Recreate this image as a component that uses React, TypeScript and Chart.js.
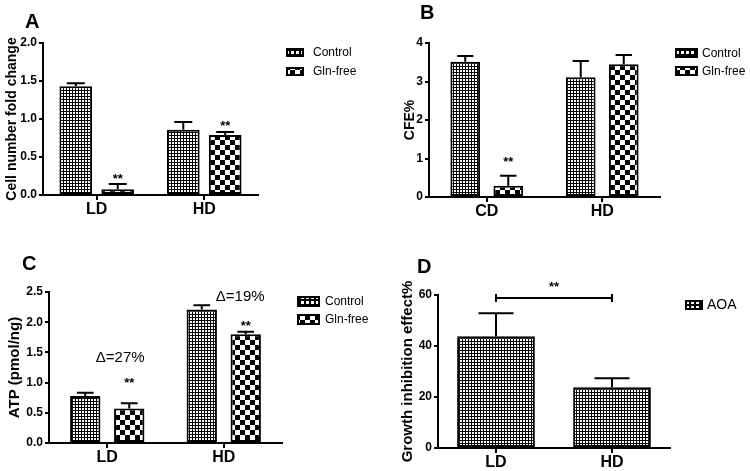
import React, { useEffect, useRef } from 'react';
import { Chart, registerables } from 'chart.js';
Chart.register(...registerables);

const FONT = "'Liberation Sans', Arial, Helvetica, sans-serif";

// ---------- Panel A ----------
const catsA = ['LD', 'HD'];
const controlA = [1.43, 0.86];
const controlErrA = [0.04, 0.1];
const glnA = [0.075, 0.79];
const glnErrA = [0.07, 0.04];
const starsA = [
  { ds: 1, i: 0, y: 0.25 },
  { ds: 1, i: 1, y: 0.95 },
];

// ---------- Panel B ----------
const catsB = ['CD', 'HD'];
const controlB = [3.51, 3.11];
const controlErrB = [0.15, 0.42];
const glnB = [0.29, 3.45];
const glnErrB = [0.26, 0.24];
const starsB = [{ ds: 1, i: 0, y: 0.99 }];

// ---------- Panel C ----------
const catsC = ['LD', 'HD'];
const controlC = [0.78, 2.21];
const controlErrC = [0.05, 0.07];
const glnC = [0.57, 1.8];
const glnErrC = [0.09, 0.04];
const starsC = [
  { ds: 1, i: 0, y: 1.04 },
  { ds: 1, i: 1, y: 1.99 },
];
const deltaC = [
  { ds: 1, i: 0, y: 1.41, text: 'Δ=27%' },
  { ds: 1, i: 1, y: 2.42, text: 'Δ=19%' },
];

// ---------- Panel D ----------
const catsD = ['LD', 'HD'];
const aoaD = [43.8, 23.8];
const aoaErrD = [9.0, 3.6];
const bracketD = { y: 58.8, starY: 64.5, text: '**' };

// fine pattern: black grid with white dots; coarse pattern: checkerboard
function makePattern(kind: 'fine' | 'coarse' | 'legendFine'): CanvasPattern {
  const c = document.createElement('canvas');
  const g = c.getContext('2d')!;
  if (kind === 'coarse') {
    const cell = 5;
    c.width = c.height = cell * 2;
    g.fillStyle = '#fff';
    g.fillRect(0, 0, cell * 2, cell * 2);
    g.fillStyle = '#000';
    g.fillRect(0, 0, cell, cell);
    g.fillRect(cell, cell, cell, cell);
  } else if (kind === 'fine') {
    c.width = c.height = 3;
    g.fillStyle = '#000';
    g.fillRect(0, 0, 3, 3);
    g.fillStyle = '#fff';
    g.fillRect(1, 1, 2, 2);
  } else {
    c.width = c.height = 5;
    g.fillStyle = '#000';
    g.fillRect(0, 0, 5, 5);
    g.fillStyle = '#fff';
    g.fillRect(1, 1, 3, 3);
  }
  return g.createPattern(c, 'repeat')!;
}

type Series = { label: string; data: number[]; err: number[]; kind: 'fine' | 'coarse' };
type Spec = {
  left: number; top: number; w: number; h: number;
  cats: string[]; series: Series[];
  yMax: number; yStep: number; decimals: number;
  yTitle: string; yTitleSize: number; yTitlePad: number;
  axisW: number; padRight: number; padTop: number; xH: number;
  barPct: number; catPct: number; capFrac: number;
  letter: string; letterX: number; letterY: number;
  legDx: number; legDy: number; boxW: number; boxH: number; legGap: number; legTextGap: number; legFont: number;
  stars?: { ds: number; i: number; y: number }[];
  texts?: { ds: number; i: number; y: number; text: string }[];
  textDx?: number[];
  bracket?: { y: number; starY: number; text: string };
};

const specs: Spec[] = [
  {
    left: 0, top: 0, w: 375, h: 230,
    cats: catsA,
    series: [
      { label: 'Control', data: controlA, err: controlErrA, kind: 'fine' },
      { label: 'Gln-free', data: glnA, err: glnErrA, kind: 'coarse' },
    ],
    yMax: 2, yStep: 0.5, decimals: 1,
    yTitle: 'Cell number fold change', yTitleSize: 14, yTitlePad: 3.6,
    axisW: 43, padRight: 117, padTop: 43, xH: 35,
    barPct: 0.78, catPct: 0.78, capFrac: 0.55,
    letter: 'A', letterX: 25, letterY: 28,
    legDx: 28, legDy: 5, boxW: 18, boxH: 9, legGap: 19, legTextGap: 9, legFont: 12,
    stars: starsA,
  },
  {
    left: 375, top: 0, w: 375, h: 230,
    cats: catsB,
    series: [
      { label: 'Control', data: controlB, err: controlErrB, kind: 'fine' },
      { label: 'Gln-free', data: glnB, err: glnErrB, kind: 'coarse' },
    ],
    yMax: 4, yStep: 1, decimals: 0,
    yTitle: 'CFE%', yTitleSize: 14, yTitlePad: 26.6,
    axisW: 54, padRight: 90, padTop: 43, xH: 33,
    barPct: 0.69, catPct: 0.745, capFrac: 0.55,
    letter: 'B', letterX: 45, letterY: 19,
    legDx: 15, legDy: 5, boxW: 23, boxH: 10, legGap: 18, legTextGap: 4, legFont: 12,
    stars: starsB,
  },
  {
    left: 0, top: 230, w: 375, h: 241,
    cats: catsC,
    series: [
      { label: 'Control', data: controlC, err: controlErrC, kind: 'fine' },
      { label: 'Gln-free', data: glnC, err: glnErrC, kind: 'coarse' },
    ],
    yMax: 2.5, yStep: 0.5, decimals: 1,
    yTitle: 'ATP (pmol/ng)', yTitleSize: 15, yTitlePad: 6,
    axisW: 49, padRight: 93, padTop: 62, xH: 28,
    barPct: 0.69, catPct: 0.755, capFrac: 0.55,
    letter: 'C', letterX: 22, letterY: 40,
    legDx: 15, legDy: 4, boxW: 23, boxH: 11, legGap: 18, legTextGap: 5, legFont: 12,
    stars: starsC, texts: deltaC, textDx: [-9, -5.5],
  },
  {
    left: 375, top: 230, w: 375, h: 241,
    cats: catsD,
    series: [{ label: 'AOA', data: aoaD, err: aoaErrD, kind: 'fine' }],
    yMax: 60, yStep: 20, decimals: 0,
    yTitle: 'Growth inhibition effect%', yTitleSize: 15, yTitlePad: 24,
    axisW: 63, padRight: 80, padTop: 65, xH: 23,
    barPct: 0.67, catPct: 1, capFrac: 0.45,
    letter: 'D', letterX: 42, letterY: 43,
    legDx: 15, legDy: 5, boxW: 18, boxH: 10, legGap: 18, legTextGap: 4, legFont: 14,
    bracket: bracketD,
  },
];

function buildConfig(spec: Spec): any {
  const patterns = spec.series.map((s) => makePattern(s.kind));
  const legendPatterns = spec.series.map((s) => makePattern(s.kind === 'fine' ? 'legendFine' : 'coarse'));
  const deco = {
    id: 'deco',
    afterDatasetsDraw(chart: any) {
      const ctx: CanvasRenderingContext2D = chart.ctx;
      const ys = chart.scales.y;
      const area = chart.chartArea;
      ctx.save();
      ctx.strokeStyle = '#000';
      ctx.fillStyle = '#000';
      ctx.lineWidth = 2;
      // error bars
      spec.series.forEach((s, di) => {
        const meta = chart.getDatasetMeta(di);
        meta.data.forEach((el: any, i: number) => {
          const top = ys.getPixelForValue(s.data[i] + s.err[i]);
          const capW = el.width * spec.capFrac;
          ctx.beginPath();
          ctx.moveTo(el.x, el.y);
          ctx.lineTo(el.x, top);
          ctx.moveTo(el.x - capW / 2, top);
          ctx.lineTo(el.x + capW / 2, top);
          ctx.stroke();
        });
      });
      // stars
      ctx.font = `bold 13px ${FONT}`;
      ctx.textAlign = 'center';
      ctx.textBaseline = 'alphabetic';
      (spec.stars || []).forEach((st) => {
        const el: any = chart.getDatasetMeta(st.ds).data[st.i];
        ctx.fillText('**', el.x, ys.getPixelForValue(st.y) + 7);
      });
      // delta texts
      ctx.font = `15px ${FONT}`;
      ctx.textBaseline = 'middle';
      (spec.texts || []).forEach((t, k) => {
        const el: any = chart.getDatasetMeta(t.ds).data[t.i];
        ctx.fillText(t.text, el.x + (spec.textDx ? spec.textDx[k] : 0), ys.getPixelForValue(t.y));
      });
      // significance bracket
      if (spec.bracket) {
        const els: any[] = chart.getDatasetMeta(0).data;
        const by = ys.getPixelForValue(spec.bracket.y);
        const x1 = els[0].x;
        const x2 = els[els.length - 1].x;
        ctx.beginPath();
        ctx.moveTo(x1, by);
        ctx.lineTo(x2, by);
        ctx.moveTo(x1, by - 4);
        ctx.lineTo(x1, by + 4);
        ctx.moveTo(x2, by - 4);
        ctx.lineTo(x2, by + 4);
        ctx.stroke();
        ctx.font = `bold 13px ${FONT}`;
        ctx.textBaseline = 'alphabetic';
        ctx.fillText(spec.bracket.text, (x1 + x2) / 2, ys.getPixelForValue(spec.bracket.starY) + 7);
      }
      // legend
      spec.series.forEach((s, di) => {
        const bx = area.right + spec.legDx;
        const by = area.top + spec.legDy + di * spec.legGap;
        ctx.fillStyle = legendPatterns[di];
        ctx.fillRect(bx, by, spec.boxW, spec.boxH);
        ctx.lineWidth = 2;
        ctx.strokeRect(bx + 1, by + 1, spec.boxW - 2, spec.boxH - 2);
        ctx.fillStyle = '#000';
        ctx.font = `${spec.legFont}px ${FONT}`;
        ctx.textAlign = 'left';
        ctx.textBaseline = 'middle';
        ctx.fillText(s.label, bx + spec.boxW + spec.legTextGap, by + spec.boxH / 2 + 0.5);
      });
      // panel letter
      ctx.font = `bold 20px ${FONT}`;
      ctx.textAlign = 'left';
      ctx.textBaseline = 'alphabetic';
      ctx.fillText(spec.letter, spec.letterX, spec.letterY);
      ctx.restore();
    },
  };

  return {
    type: 'bar',
    data: {
      labels: spec.cats,
      datasets: spec.series.map((s, di) => ({
        label: s.label,
        data: s.data,
        backgroundColor: patterns[di],
        borderColor: '#000',
        borderWidth: 2,
        borderSkipped: false,
        barPercentage: spec.barPct,
        categoryPercentage: spec.catPct,
      })),
    },
    options: {
      responsive: false,
      animation: false,
      layout: { padding: { left: 0, right: spec.padRight, top: spec.padTop, bottom: 0 } },
      plugins: { legend: { display: false }, tooltip: { enabled: false } },
      scales: {
        x: {
          grid: { offset: false, drawOnChartArea: false, color: '#000', lineWidth: 2, tickLength: 5 },
          border: { color: '#000', width: 2 },
          ticks: { color: '#000', padding: 0, font: { family: FONT, size: 16, weight: 'bold' } },
          afterFit: (s: any) => { s.height = spec.xH; },
        },
        y: {
          min: 0,
          max: spec.yMax,
          grid: { drawOnChartArea: false, color: '#000', lineWidth: 2, tickLength: 4 },
          border: { color: '#000', width: 2 },
          ticks: {
            stepSize: spec.yStep,
            color: '#000',
            padding: 2,
            font: { family: FONT, size: 12, weight: 'bold' },
            callback: (v: any) => Number(v).toFixed(spec.decimals),
          },
          title: {
            display: true,
            text: spec.yTitle,
            color: '#000',
            font: { family: FONT, size: spec.yTitleSize, weight: 'bold' },
            padding: { top: spec.yTitlePad, bottom: 0 },
          },
          afterFit: (s: any) => { s.width = spec.axisW; },
        },
      },
    },
    plugins: [deco],
  };
}

function Panel({ spec }: { spec: Spec }) {
  const ref = useRef<HTMLCanvasElement>(null);
  useEffect(() => {
    const chart = new Chart(ref.current!, buildConfig(spec));
    return () => chart.destroy();
  }, [spec]);
  return (
    <canvas
      ref={ref}
      width={spec.w}
      height={spec.h}
      style={{ position: 'absolute', left: spec.left, top: spec.top, width: spec.w, height: spec.h }}
    />
  );
}

export default function App() {
  return (
    <div style={{ position: 'fixed', left: 0, top: 0, width: 750, height: 471, background: '#fff', overflow: 'hidden' }}>
      {specs.map((s, k) => (
        <Panel key={k} spec={s} />
      ))}
    </div>
  );
}
